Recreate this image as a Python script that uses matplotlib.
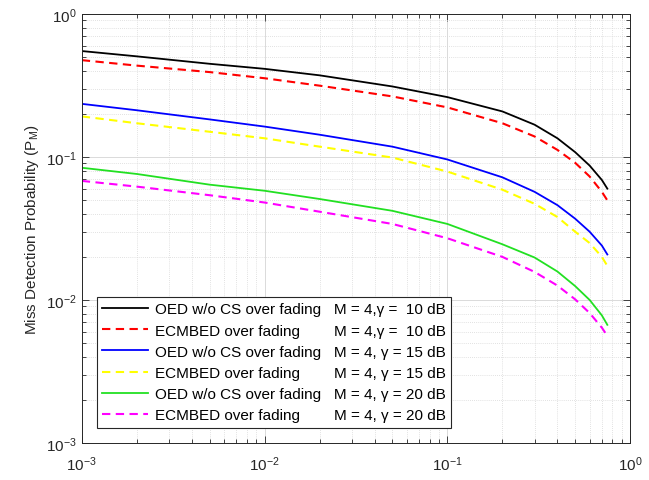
# plot.py
# Miss detection probability vs false alarm (log-log), MATLAB-style look.

import matplotlib
matplotlib.use("Agg")
import matplotlib.pyplot as plt
from matplotlib.ticker import LogLocator, NullFormatter

plt.rcParams["font.family"] = ["Liberation Sans", "DejaVu Sans"]
plt.rcParams["mathtext.default"] = "regular"

# false alarm probability grid
pf = [0.001, 0.002, 0.005, 0.01, 0.02, 0.05, 0.1, 0.2, 0.3, 0.4, 0.5, 0.6, 0.7, 0.75]

# miss detection probability per curve
oed_10 = [0.55, 0.505, 0.448, 0.413, 0.372, 0.311, 0.262, 0.208, 0.168, 0.135, 0.108, 0.087, 0.069, 0.060]
ecm_10 = [0.475, 0.435, 0.392, 0.355, 0.315, 0.265, 0.222, 0.172, 0.139, 0.112, 0.091, 0.073, 0.057, 0.0497]
oed_15 = [0.235, 0.212, 0.183, 0.163, 0.143, 0.118, 0.096, 0.072, 0.057, 0.046, 0.037, 0.030, 0.024, 0.0208]
ecm_15 = [0.192, 0.172, 0.150, 0.135, 0.118, 0.099, 0.079, 0.059, 0.047, 0.038, 0.030, 0.025, 0.020, 0.0173]
oed_20 = [0.084, 0.076, 0.064, 0.058, 0.0508, 0.042, 0.034, 0.0245, 0.0198, 0.0158, 0.0125, 0.0100, 0.0078, 0.0067]
ecm_20 = [0.068, 0.062, 0.054, 0.048, 0.0414, 0.034, 0.027, 0.0200, 0.0157, 0.0126, 0.0101, 0.0081, 0.0064, 0.0056]

names = ["OED w/o CS over fading", "ECMBED over fading"] * 3
params = ["M = 4,γ =  10 dB", "M = 4,γ =  10 dB",
          "M = 4, γ = 15 dB", "M = 4, γ = 15 dB",
          "M = 4, γ = 20 dB", "M = 4, γ = 20 dB"]

series = [oed_10, ecm_10, oed_15, ecm_15, oed_20, ecm_20]
colors = ["black", "red", "blue", "#ffff00", "#22e022", "magenta"]
dashed = [False, True, False, True, False, True]

fig = plt.figure(figsize=(6.49, 4.81), dpi=100)
ax = fig.add_axes([0.126, 0.077, 0.845, 0.892])

# pad first column with spaces so the second column lines up
legend_fs = 11
renderer = fig.canvas.get_renderer()

def text_width(s):
    t = fig.text(0, 0, s, fontsize=legend_fs)
    w = t.get_window_extent(renderer).width
    t.remove()
    return w

space_w = (text_width("a" + " " * 10 + "a") - text_width("aa")) / 10
widest = max(text_width(n) for n in names)
labels = []
for n, p in zip(names, params):
    pad = int(round((widest - text_width(n)) / space_w)) + 3
    labels.append(n + " " * pad + p)

for y, c, d, lab in zip(series, colors, dashed, labels):
    if d:
        ax.plot(pf, y, color=c, lw=1.5, ls=(0, (4, 2.6)), label=lab)
    else:
        ax.plot(pf, y, color=c, lw=1.3, label=lab)

ax.set_xscale("log")
ax.set_yscale("log")
ax.set_xlim(1e-3, 1e0)
ax.set_ylim(1e-3, 1e0)
ax.set_ylabel("Miss Detection Probability (P$_M$)", fontsize=11, color="#262626")

ax.xaxis.set_minor_locator(LogLocator(base=10, subs=range(2, 10), numticks=20))
ax.yaxis.set_minor_locator(LogLocator(base=10, subs=range(2, 10), numticks=20))
ax.xaxis.set_minor_formatter(NullFormatter())
ax.yaxis.set_minor_formatter(NullFormatter())

ax.tick_params(which="both", direction="in", top=True, right=True, colors="#262626",
               labelsize=11, width=0.6)
ax.tick_params(which="major", length=5)
ax.tick_params(which="minor", length=3)
ax.tick_params(axis="x", pad=8)

ax.grid(which="major", color="#d4d4d4", lw=0.6, ls="-")
ax.grid(which="minor", color="#d8d8d8", lw=0.6, ls=(0, (1, 1.5)))
ax.set_axisbelow(True)
for s in ax.spines.values():
    s.set_color("#262626")
    s.set_linewidth(0.7)

leg = ax.legend(loc="lower left", fontsize=legend_fs, handlelength=3.0, handletextpad=0.45,
                labelspacing=0.47, borderaxespad=1.0, fancybox=False, framealpha=1,
                edgecolor="#262626", borderpad=0.35)
leg.get_frame().set_linewidth(0.8)

fig.savefig("out.png", dpi=100)
